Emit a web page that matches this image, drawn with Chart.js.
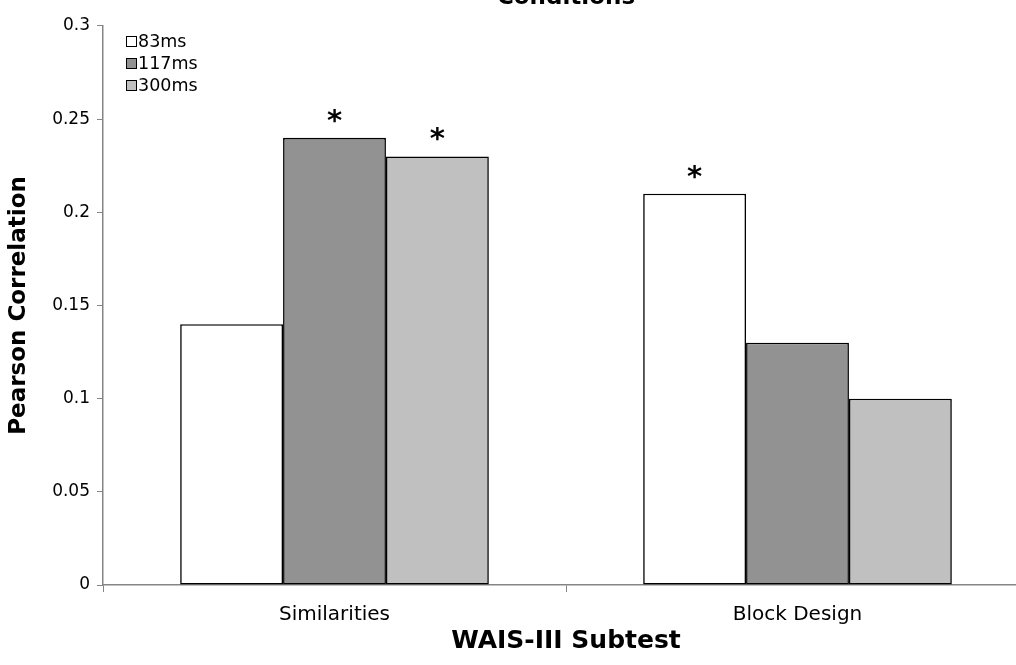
<!DOCTYPE html>
<html>
<head>
<meta charset="utf-8">
<script src="https://cdn.jsdelivr.net/npm/chart.js@4/dist/chart.umd.min.js"></script>
<style>
  html, body { margin: 0; padding: 0; background: #ffffff; overflow: hidden; }
  #wrap { position: relative; width: 1016px; height: 665px; overflow: hidden; }
  canvas { display: block; }
</style>
</head>
<body>
<div id="wrap"><canvas id="chart" width="1040" height="665"></canvas></div>
<script>
// Subtests on the x axis
const categories = ['Similarities', 'Block Design'];
// Exposure-duration series
const seriesLabels = ['83ms', '117ms', '300ms'];
const values83 = [0.14, 0.21];
const values117 = [0.24, 0.13];
const values300 = [0.23, 0.10];
// Significant correlations, marked with an asterisk
const sig83 = [false, true];
const sig117 = [true, false];
const sig300 = [true, false];
// Y axis
const yTickLabels = ['0', '0.05', '0.1', '0.15', '0.2', '0.25', '0.3'];
const yMax = 0.3;
const yStep = 0.05;

const FONT = '"DejaVu Sans", Verdana, sans-serif';
const AXIS_GREY = '#858585';

const seriesValues = [values83, values117, values300];
const seriesSig = [sig83, sig117, sig300];
const fills = ['#ffffff', '#929292', '#c0c0c0'];

// Asterisks over significant bars
const starPlugin = {
  id: 'stars',
  afterDatasetsDraw(chart) {
    const ctx = chart.ctx;
    ctx.save();
    ctx.fillStyle = '#000000';
    ctx.font = 'bold 29px ' + FONT;
    ctx.textAlign = 'center';
    ctx.textBaseline = 'alphabetic';
    chart.data.datasets.forEach((ds, i) => {
      const meta = chart.getDatasetMeta(i);
      meta.data.forEach((bar, j) => {
        if (seriesSig[i][j]) ctx.fillText('*', bar.x, bar.y - 8);
      });
    });
    ctx.restore();
  }
};

// Legend box in the upper-left of the plot, plus the chart heading
const legendPlugin = {
  id: 'cornerLegend',
  afterDraw(chart) {
    const ctx = chart.ctx;
    const area = chart.chartArea;
    ctx.save();
    const x0 = area.left + 23;
    const y0 = area.top + 16;
    chart.data.datasets.forEach((ds, i) => {
      const cy = y0 + i * 22;
      ctx.fillStyle = ds.backgroundColor;
      ctx.fillRect(x0 + 0.5, cy - 5.5, 10, 10);
      ctx.strokeStyle = '#000000';
      ctx.lineWidth = 1;
      ctx.strokeRect(x0 + 0.5, cy - 5.5, 10, 10);
      ctx.fillStyle = '#000000';
      ctx.font = '17.5px ' + FONT;
      ctx.textAlign = 'left';
      ctx.textBaseline = 'middle';
      ctx.fillText(ds.label, x0 + 12, cy);
    });
    ctx.fillStyle = '#000000';
    ctx.font = 'bold 23px ' + FONT;
    ctx.textAlign = 'center';
    ctx.textBaseline = 'alphabetic';
    ctx.fillText('Conditions', (area.left + area.right) / 2, 4);
    ctx.restore();
  }
};

new Chart(document.getElementById('chart'), {
  type: 'bar',
  data: {
    labels: categories,
    datasets: seriesLabels.map((label, i) => ({
      label: label,
      data: seriesValues[i],
      backgroundColor: fills[i],
      borderColor: '#000000',
      borderWidth: 1.6,
      borderSkipped: false,
      categoryPercentage: 2 / 3,
      barPercentage: 1.0
    }))
  },
  options: {
    responsive: false,
    animation: false,
    devicePixelRatio: 1,
    layout: { padding: { top: 26, right: 11, left: 0, bottom: 0 } },
    plugins: {
      legend: { display: false },
      title: { display: false },
      tooltip: { enabled: false }
    },
    scales: {
      x: {
        afterFit(scale) { scale.height = 80; },
        grid: {
          display: true,
          offset: true,
          drawOnChartArea: false,
          drawTicks: true,
          tickLength: 7,
          color: AXIS_GREY,
          lineWidth: 1
        },
        border: { display: true, color: AXIS_GREY, width: 1.5 },
        ticks: {
          color: '#000000',
          font: { family: FONT, size: 20 },
          padding: 11,
          maxRotation: 0
        },
        title: {
          display: true,
          text: 'WAIS-III Subtest',
          color: '#000000',
          font: { family: FONT, size: 25, weight: 'bold' },
          padding: { top: 0, bottom: 9 }
        }
      },
      y: {
        min: 0,
        max: yMax,
        afterFit(scale) { scale.width = 103; },
        afterBuildTicks(scale) {
          scale.ticks = yTickLabels.map((t, i) => ({ value: i * yStep }));
        },
        grid: {
          display: true,
          drawOnChartArea: false,
          drawTicks: true,
          tickLength: 6,
          color: AXIS_GREY,
          lineWidth: 1
        },
        border: { display: true, color: AXIS_GREY, width: 1.5 },
        ticks: {
          color: '#000000',
          font: { family: FONT, size: 17 },
          padding: 7,
          callback: (v, i) => yTickLabels[i]
        },
        title: {
          display: true,
          text: 'Pearson Correlation',
          color: '#000000',
          font: { family: FONT, size: 23, weight: 'bold' },
          padding: { top: 5, bottom: 0 }
        }
      }
    }
  },
  plugins: [starPlugin, legendPlugin]
});
</script>
</body>
</html>
